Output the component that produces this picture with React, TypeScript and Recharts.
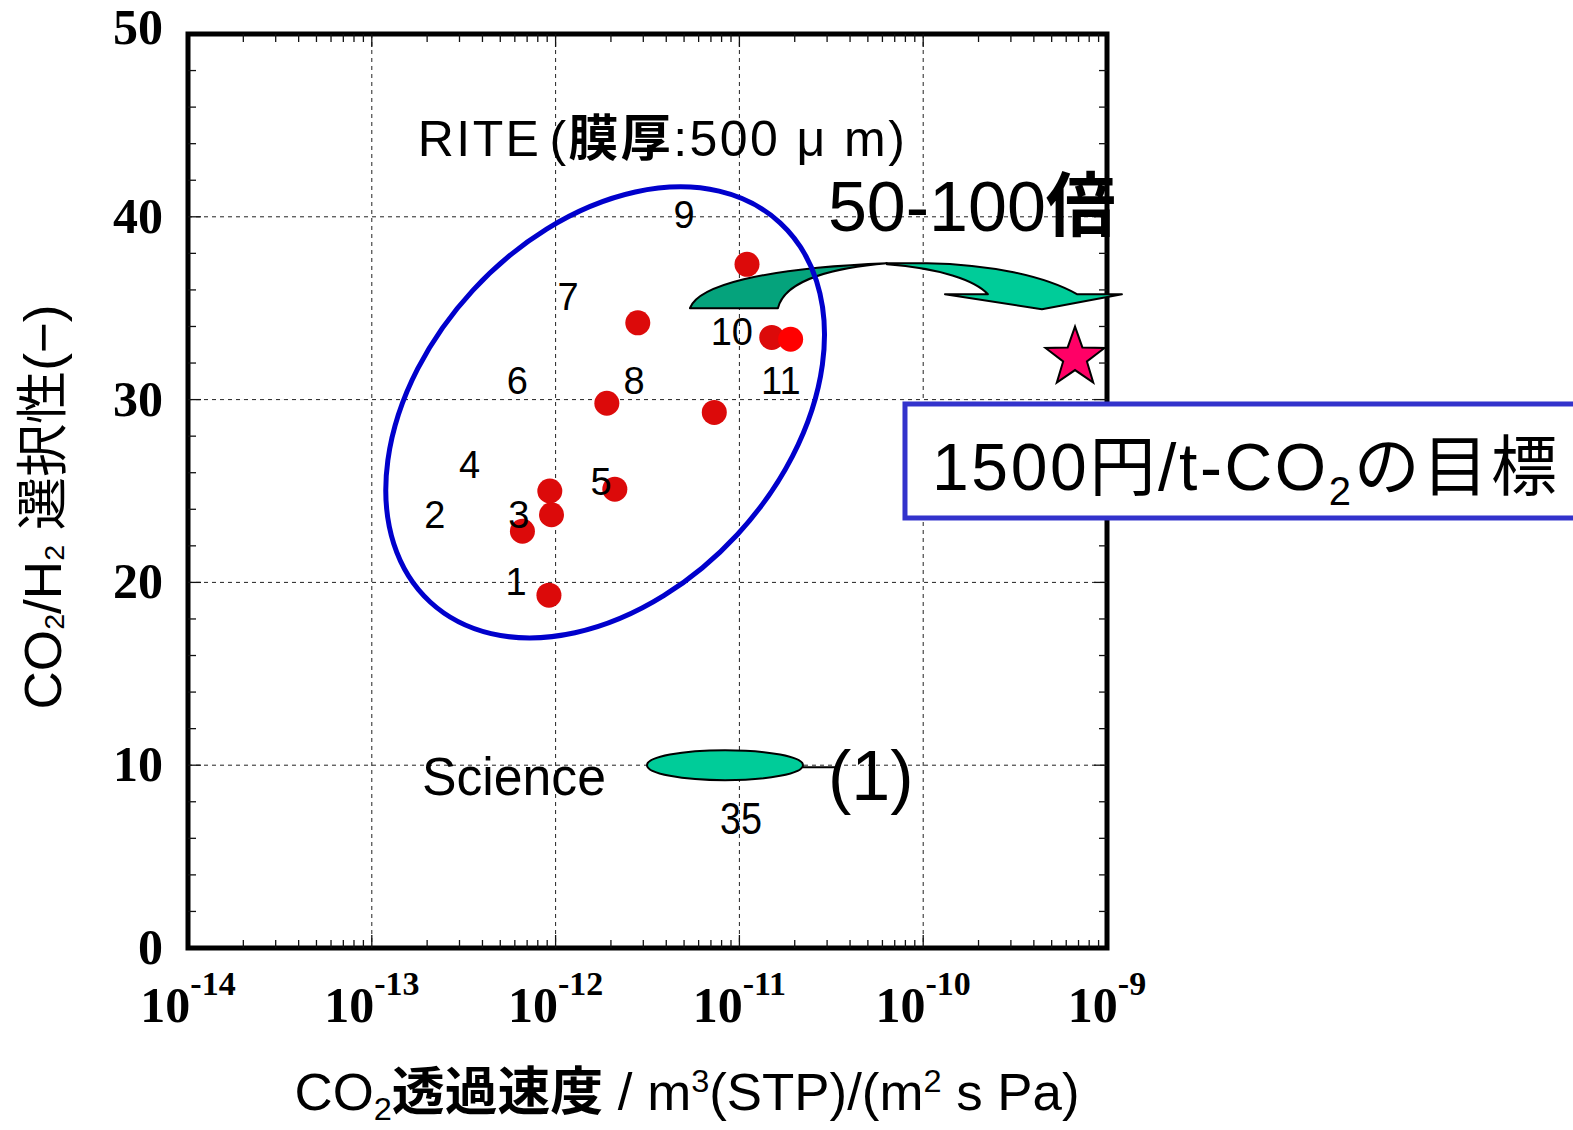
import React from 'react';
import { ScatterChart, Scatter, XAxis, YAxis, CartesianGrid, ReferenceArea, Customized } from 'recharts';

const SANS = "'Liberation Sans', Arial, 'Noto Sans CJK JP', sans-serif";
const SERIF = "'Liberation Serif', 'Times New Roman', serif";

// RITE膜: CO2透過速度 と CO2/H2選択性
const permeance = [9.2e-13, 6.6e-13, 9.5e-13, 9.3e-13, 2.1e-12, 1.9e-12, 7.3e-12, 2.8e-12, 1.1e-11, 1.5e-11, 1.9e-11];
const selectivity = [19.3, 22.8, 23.7, 25.0, 25.1, 29.8, 29.3, 34.2, 37.4, 33.4, 33.3];
const dotColors = ['#dc0a0a', '#dc0a0a', '#dc0a0a', '#dc0a0a', '#dc0a0a', '#dc0a0a', '#dc0a0a', '#dc0a0a', '#dc0a0a', '#dc0a0a', '#ff0000'];

// 文献番号ラベル
const refLabels = ['1', '2', '3', '4', '5', '6', '7', '8', '9', '10', '11'];
const refLabelX = [6.1e-13, 2.2e-13, 6.3e-13, 3.4e-13, 1.77e-12, 6.2e-13, 1.17e-12, 2.67e-12, 5.0e-12, 9.1e-12, 1.68e-11];
const refLabelY = [20.0, 23.7, 23.7, 26.4, 25.5, 31.0, 35.6, 31.0, 40.1, 33.7, 31.0];

// 目標値 (1500円/t-CO2)
const targetPermeance = 6.7e-10;
const targetSelectivity = 32.3;

// Science (1)
const sciencePermeance = 8.35e-12;
const scienceSelectivity = 10.0;

const X_MIN = 1e-14;
const X_MAX = 1e-9;
const xTicks = [1e-14, 1e-13, 1e-12, 1e-11, 1e-10, 1e-9];
const yTicks = [0, 10, 20, 30, 40, 50];
const xMinorTicks = [-14, -13, -12, -11, -10].flatMap(e => [2, 3, 4, 5, 6, 7, 8, 9].map(m => m * Math.pow(10, e)));
const yMinorTicks = [2, 4, 6, 8, 12, 14, 16, 18, 22, 24, 26, 28, 32, 34, 36, 38, 42, 44, 46, 48];
const xMajorInner = [1e-13, 1e-12, 1e-11, 1e-10];
const yMajorInner = [10, 20, 30, 40];

const XTick = (props: any) => {
    const { x, y, payload } = props;
    const exp = Math.round(Math.log10(payload.value));
    return (
        <text x={x} y={y + 74} textAnchor="middle" fontFamily={SERIF} fontWeight="bold" fontSize={50} fill="#000">
            <tspan>10</tspan>
            <tspan dy={-27} fontSize={34}>{String(exp)}</tspan>
        </text>
    );
};

const YTick = (props: any) => {
    const { x, y, payload } = props;
    const shift = payload.value === 50 ? -6 : 0;
    return (
        <text x={x} y={y + 16 + shift} textAnchor="end" fontFamily={SERIF} fontWeight="bold" fontSize={50} fill="#000">
            {payload.value}
        </text>
    );
};

const AxisTitles = () => (
    <g fontFamily={SANS} fill="#000">
        <text x={687} y={1110} textAnchor="middle" fontSize={52} textLength={785} lengthAdjust="spacingAndGlyphs">
            CO<tspan fontSize={32} dy={10}>2</tspan>
            <tspan dy={-10} fontWeight="bold">透過速度</tspan>
            <tspan>{' / m'}</tspan>
            <tspan fontSize={32} dy={-18}>3</tspan>
            <tspan dy={18}>{'(STP)/(m'}</tspan>
            <tspan fontSize={32} dy={-18}>2</tspan>
            <tspan dy={18}>{' s Pa)'}</tspan>
        </text>
        <text transform="rotate(-90)" x={-507} y={61} textAnchor="middle" fontSize={52} textLength={405} lengthAdjust="spacingAndGlyphs">
            CO<tspan fontSize={28} dy={3}>2</tspan>
            <tspan dy={-3}>/H</tspan>
            <tspan fontSize={28} dy={3}>2</tspan>
            <tspan dy={-3}>{' 選択性(−)'}</tspan>
        </text>
    </g>
);

// 注記: データ座標に置いた1点にカスタム図形を描く
const anno = (key: string, x: number, y: number, draw: (cx: number, cy: number) => React.ReactElement) => (
    <Scatter key={key} data={[{ x, y }]} isAnimationActive={false} shape={(p: any) => draw(p.cx, p.cy)} />
);

// 枠の内側に向く目盛り線
const tickMarks = (key: string, data: { x: number; y: number }[], dx: number, dy: number) => (
    <Scatter key={key} data={data} isAnimationActive={false}
        shape={(p: any) => <line x1={p.cx} y1={p.cy} x2={p.cx + dx} y2={p.cy + dy} stroke="#111" strokeWidth={1.3} />} />
);

const starPath = (cx: number, cy: number, R: number, r: number) => {
    const pts: string[] = [];
    for (let i = 0; i < 10; i++) {
        const rad = i % 2 === 0 ? R : r;
        const a = -Math.PI / 2 + (i * Math.PI) / 5;
        pts.push(`${cx + rad * Math.cos(a)},${cy + rad * Math.sin(a)}`);
    }
    return `M${pts.join('L')}Z`;
};

export default function App() {
    const points = permeance.map((x, i) => ({ x, y: selectivity[i], color: dotColors[i] }));
    const labels = refLabels.map((t, i) => ({ x: refLabelX[i], y: refLabelY[i], t }));

    return (
        <div style={{ position: 'absolute', left: 0, top: 0, width: 1573, height: 1130, background: '#fff', overflow: 'hidden' }}>
            <ScatterChart width={1573} height={1130} margin={{ top: 34, right: 466, bottom: 0, left: 0 }}>
                <CartesianGrid stroke="#222" strokeDasharray="4 4" strokeWidth={1} />
                <XAxis dataKey="x" type="number" scale="log" domain={[X_MIN, X_MAX]} ticks={xTicks} interval={0}
                    height={182} axisLine={false} tickLine={false} tickSize={0} tickMargin={0}
                    tick={(p: any) => <XTick {...p} />} />
                <YAxis dataKey="y" type="number" domain={[0, 50]} ticks={yTicks} interval={0}
                    width={188} axisLine={false} tickLine={false} tickSize={0} tickMargin={25}
                    tick={(p: any) => <YTick {...p} />} />

                {tickMarks('mb', xMinorTicks.map(x => ({ x, y: 0 })), 0, -8)}
                {tickMarks('mt', xMinorTicks.map(x => ({ x, y: 50 })), 0, 8)}
                {tickMarks('ml', yMinorTicks.map(y => ({ x: X_MIN, y })), 8, 0)}
                {tickMarks('mr', yMinorTicks.map(y => ({ x: X_MAX, y })), -8, 0)}
                {tickMarks('Mb', xMajorInner.map(x => ({ x, y: 0 })), 0, -13)}
                {tickMarks('Mt', xMajorInner.map(x => ({ x, y: 50 })), 0, 13)}
                {tickMarks('Ml', yMajorInner.map(y => ({ x: X_MIN, y })), 13, 0)}
                {tickMarks('Mr', yMajorInner.map(y => ({ x: X_MAX, y })), -13, 0)}
                <ReferenceArea x1={X_MIN} x2={X_MAX} y1={0} y2={50} fill="none" stroke="#000" strokeWidth={5} />

                <Scatter data={points} isAnimationActive={false}
                    shape={(p: any) => <circle cx={p.cx} cy={p.cy} r={12.5} fill={p.payload.color} />} />
                <Scatter data={labels} isAnimationActive={false}
                    shape={(p: any) => (
                        <text x={p.cx} y={p.cy + 13} textAnchor="middle" fontFamily={SANS} fontSize={38} fill="#000">{p.payload.t}</text>
                    )} />

                {anno('arrow', 5.38e-12, 35.0, (cx, cy) => (
                    <g transform={`translate(${cx},${cy})`} stroke="#000" strokeWidth={2} strokeLinejoin="round">
                        <path fill="#00cc99"
                            d="M197,-45 L237,-45 C300,-44 355,-32 387,-14 L432,-14 L352,1 L255,-14 L298,-14 C285,-28 250,-40 197,-44 Z" />
                        <path fill="#05a37c" d="M0,0 C8,-22 70,-40 197,-45 C150,-41 95,-30 88,0 Z" />
                    </g>
                ))}
                {anno('rite', 1.86e-12, 29.3, (cx, cy) => (
                    <ellipse cx={cx} cy={cy} rx={258} ry={180} fill="none" stroke="#0000cc" strokeWidth={5}
                        transform={`rotate(-47.3 ${cx} ${cy})`} />
                ))}
                {anno('riteText', 1.78e-13, 43.3, (cx, cy) => (
                    <text x={cx} y={cy} fontFamily={SANS} fontSize={50} fill="#000" textLength={487} lengthAdjust="spacing">
                        RITE<tspan dx={8}>(</tspan><tspan fontWeight="bold">膜厚</tspan>:500 μ m)
                    </text>
                ))}
                {anno('factor', 3.03e-11, 39.2, (cx, cy) => (
                    <text x={cx} y={cy} fontFamily={SANS} fontSize={70} fill="#000">
                        50-100<tspan fontWeight="bold">倍</tspan>
                    </text>
                ))}
                {anno('target', targetPermeance, targetSelectivity, (cx, cy) => (
                    <path d={starPath(cx, cy, 31, 12.5)} fill="#ff0066" stroke="#000" strokeWidth={2} strokeLinejoin="miter" />
                ))}
                {anno('science', sciencePermeance, scienceSelectivity, (cx, cy) => (
                    <g>
                        <line x1={cx + 78} y1={cy + 2} x2={cx + 111} y2={cy + 2} stroke="#000" strokeWidth={2} />
                        <ellipse cx={cx} cy={cy} rx={78} ry={15} fill="#00cc99" stroke="#000" strokeWidth={2} />
                        <text x={cx - 303} y={cy + 30} fontFamily={SANS} fontSize={54} fill="#000" textLength={184} lengthAdjust="spacingAndGlyphs">Science</text>
                        <text x={cx + 103} y={cy + 35} fontFamily={SANS} fontSize={70} fill="#000">(1)</text>
                        <text x={cx + 16} y={cy + 69} textAnchor="middle" fontFamily={SANS} fontSize={44} fill="#000" textLength={42} lengthAdjust="spacingAndGlyphs">35</text>
                    </g>
                ))}
                {anno('goal', 7.96e-11, 29.76, (cx, cy) => (
                    <g>
                        <rect x={cx} y={cy} width={720} height={114} fill="#fff" stroke="#3333cc" strokeWidth={5} />
                        <text x={cx + 27} y={cy + 86} fontFamily={SANS} fontSize={66} fill="#000" textLength={625} lengthAdjust="spacing">
                            1500円/t-CO<tspan fontSize={40} dy={15}>2</tspan><tspan dy={-15}>の目標</tspan>
                        </text>
                    </g>
                ))}
                <Customized component={AxisTitles} />
            </ScatterChart>
        </div>
    );
}
